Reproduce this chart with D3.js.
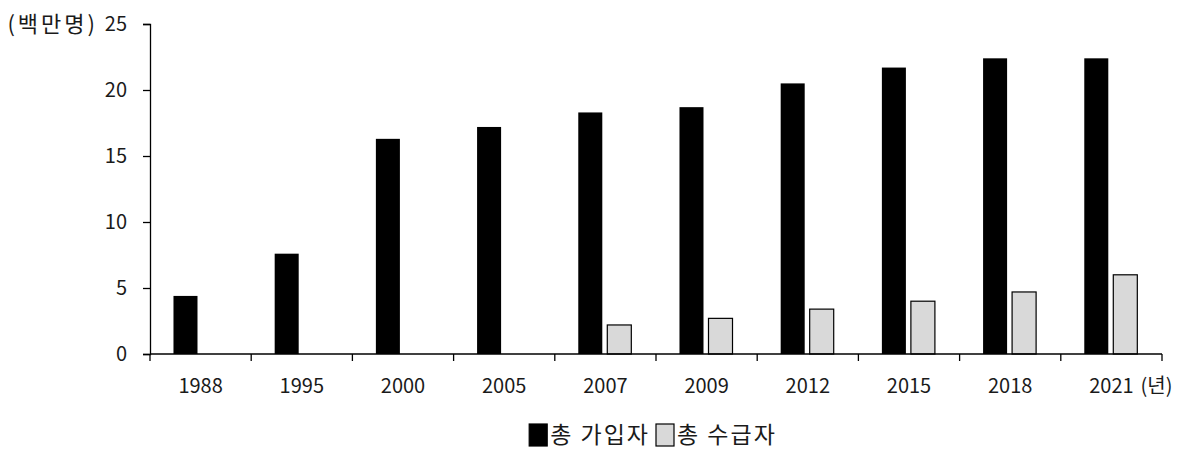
<!DOCTYPE html>
<html>
<head>
<meta charset="utf-8">
<script src="https://cdn.jsdelivr.net/npm/d3@7"></script>
<style>
  body { margin: 0; background: #fff; }
  text { font-family: "Noto Sans CJK KR", "Noto Sans", sans-serif; fill: #1a1a1a; }
</style>
</head>
<body>
<div id="chart"></div>
<script>
// 데이터
const years = ["1988", "1995", "2000", "2005", "2007", "2009", "2012", "2015", "2018", "2021"];
const subscribers = [4.4, 7.6, 16.3, 17.2, 18.3, 18.7, 20.5, 21.7, 22.4, 22.4];
const recipients = [null, null, null, null, 2.2, 2.7, 3.4, 4.0, 4.7, 6.0];
const seriesNames = ["총 가입자", "총 수급자"];
const yTicks = [0, 5, 10, 15, 20, 25];

const W = 1181, H = 449;
const margin = { top: 24, right: 19, bottom: 95, left: 150 },
  width = W - margin.left - margin.right,
  height = H - margin.top - margin.bottom;

const svg = d3.select("#chart").append("svg")
  .attr("width", W).attr("height", H);

const g = svg.append("g")
  .attr("transform", "translate(" + margin.left + "," + margin.top + ")");

const x0 = d3.scaleBand().domain(years).range([0, width]).padding(0);
const bw = x0.bandwidth();
const x1 = d3.scaleBand().domain([0, 1])
  .range([bw * 0.232, bw * 0.756]).paddingInner(0.172).paddingOuter(0);
const y = d3.scaleLinear().domain([0, 25]).range([height, 0]);

// 막대
const rows = years.map(function (yr, i) {
  return { year: yr, vals: [subscribers[i], recipients[i]] };
});

const groups = g.selectAll(".grp").data(rows).enter().append("g")
  .attr("transform", function (d) { return "translate(" + x0(d.year) + ",0)"; });

groups.selectAll("rect")
  .data(function (d) {
    return d.vals.map(function (v, k) { return { k: k, v: v }; })
      .filter(function (e) { return e.v != null; });
  })
  .enter().append("rect")
  .attr("x", function (e) { return x1(e.k); })
  .attr("width", x1.bandwidth())
  .attr("y", function (e) { return y(e.v); })
  .attr("height", function (e) { return height - y(e.v); })
  .attr("fill", function (e) { return e.k === 0 ? "#000" : "#d9d9d9"; })
  .attr("stroke", "#000")
  .attr("stroke-width", function (e) { return e.k === 0 ? 0 : 1.2; });

// y 축
const yAxis = g.append("g")
  .call(d3.axisLeft(y).tickValues(yTicks).tickSize(7).tickPadding(16));
yAxis.select(".domain").attr("stroke", "#000").attr("stroke-width", 1.3);
yAxis.selectAll(".tick line").attr("stroke", "#000").attr("stroke-width", 1.3);
yAxis.selectAll(".tick text").style("font-size", "20px").attr("fill", "#1a1a1a");

g.append("text")
  .attr("x", -52).attr("y", y(25)).attr("dy", "0.36em")
  .attr("text-anchor", "end")
  .style("font-size", "22px")
  .style("letter-spacing", "3px")
  .text("(백만명)");

// x 축
const xAxis = g.append("g").attr("transform", "translate(0," + height + ")");
xAxis.append("line")
  .attr("x1", 0).attr("x2", width)
  .attr("stroke", "#000").attr("stroke-width", 1.3);
xAxis.selectAll(".xt").data(d3.range(years.length + 1)).enter().append("line")
  .attr("x1", function (i) { return i * bw; })
  .attr("x2", function (i) { return i * bw; })
  .attr("y1", 0).attr("y2", 7)
  .attr("stroke", "#000").attr("stroke-width", 1.3);
const xl = xAxis.selectAll(".xl").data(years).enter().append("text")
  .attr("x", function (d) { return x0(d) + bw / 2; })
  .attr("y", 39)
  .attr("text-anchor", "middle")
  .style("font-size", "20px")
  .text(function (d) { return d; });

const lastLbl = xl.filter(function (d, i) { return i === years.length - 1; });
const lastW = lastLbl.node().getComputedTextLength();
xAxis.append("text")
  .attr("x", x0(years[years.length - 1]) + bw / 2 + lastW / 2 + 7)
  .attr("y", 39)
  .style("font-size", "20px")
  .text("(년)");

// 범례
const legend = svg.append("g");
const sw = 18, sh = 22;
let lx = 0;
seriesNames.forEach(function (name, k) {
  legend.append("rect")
    .attr("x", lx).attr("y", -sh / 2)
    .attr("width", sw).attr("height", sh)
    .attr("fill", k === 0 ? "#000" : "#d9d9d9")
    .attr("stroke", "#000").attr("stroke-width", 1.2);
  const t = legend.append("text")
    .attr("x", lx + sw + 3).attr("y", 0).attr("dy", "0.36em")
    .style("font-size", "23px")
    .style("letter-spacing", "2px")
    .text(name);
  lx += sw + 3 + t.node().getComputedTextLength() + 6;
});
const legW = lx - 6;
legend.attr("transform", "translate(" + (margin.left + width / 2 - legW / 2 - 3) + ",435)");
</script>
</body>
</html>
